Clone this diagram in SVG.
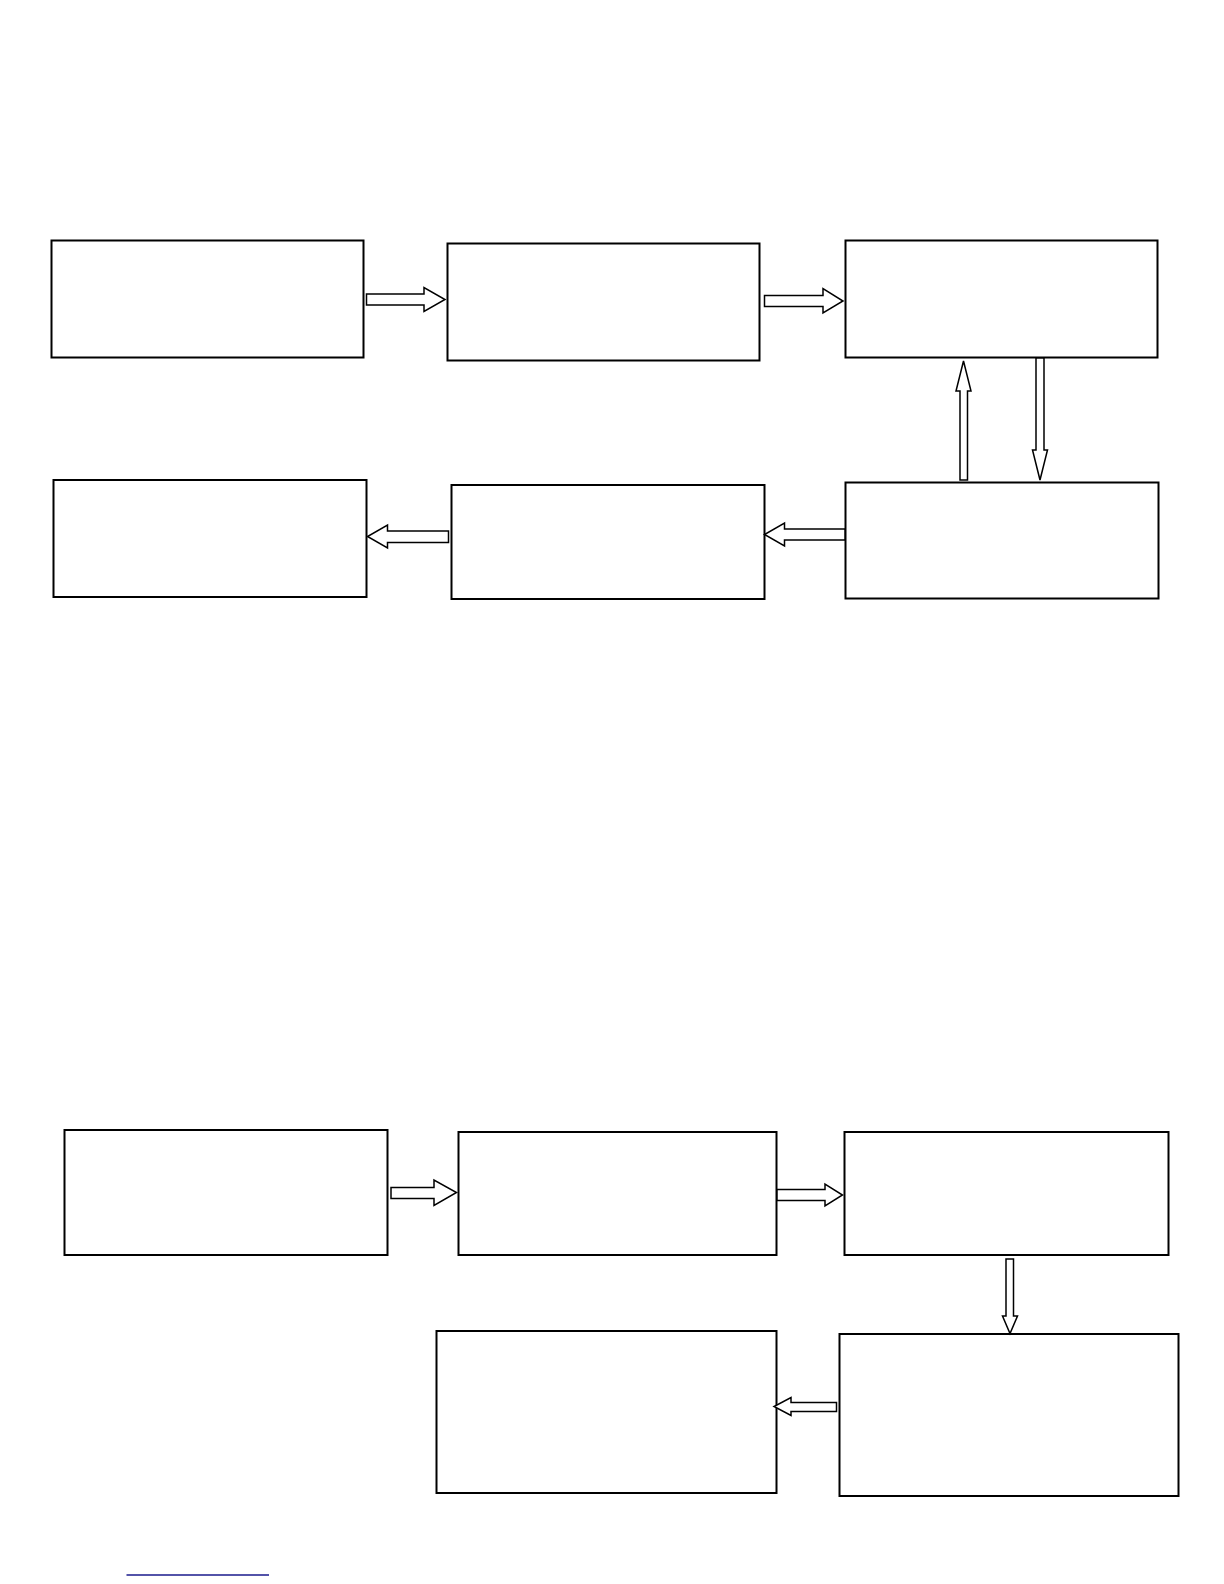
<svg xmlns="http://www.w3.org/2000/svg" width="1224" height="1584" viewBox="0 0 1224 1584">
<style>
.box{fill:#fff;stroke:#000;stroke-width:2}
.arr{fill:#fff;stroke:#000;stroke-width:1.5;stroke-linejoin:miter}
</style>
<rect width="1224" height="1584" fill="#fff"/>
<g id="nodes">
<g id="a"><rect class="box" x="51.5" y="240.5" width="312" height="117"/></g>
<g id="b"><rect class="box" x="447.5" y="243.5" width="312" height="117"/></g>
<g id="c"><rect class="box" x="845.5" y="240.5" width="312" height="117"/></g>
<g id="d"><rect class="box" x="845.5" y="482.5" width="313" height="116"/></g>
<g id="e"><rect class="box" x="451.5" y="485" width="313" height="114"/></g>
<g id="f"><rect class="box" x="53.5" y="480" width="313" height="117"/></g>
<g id="g"><rect class="box" x="64.5" y="1130" width="323" height="125"/></g>
<g id="h"><rect class="box" x="458.5" y="1132" width="318" height="123"/></g>
<g id="i"><rect class="box" x="844.5" y="1132" width="324" height="123"/></g>
<g id="j"><rect class="box" x="839.5" y="1334" width="339" height="162"/></g>
<g id="k"><rect class="box" x="436.5" y="1331" width="340" height="162"/></g>
</g>
<g id="connectors">
<polygon class="arr" points="366.5,294 424,294 424,287.5 445,299.5 424,311.5 424,305 366.5,305"/>
<polygon class="arr" points="764.5,295.5 823,295.5 823,288.5 843,301 823,313 823,306.5 764.5,306.5"/>
<polygon class="arr" points="960,480 960,391 956,391 963.5,361 971,391 967.5,391 967.5,480"/>
<polygon class="arr" points="1036,358 1044,358 1044,450 1047.5,450 1040,480 1032.5,450 1036,450"/>
<polygon class="arr" points="845,529 784.5,529 784.5,523 764.5,534.5 784.5,546 784.5,540 845,540"/>
<polygon class="arr" points="448.5,531 387.5,531 387.5,525 367.5,536.5 387.5,548 387.5,542.5 448.5,542.5"/>
<polygon class="arr" points="391,1187.5 434,1187.5 434,1180 456.5,1192.5 434,1205.5 434,1198.5 391,1198.5"/>
<polygon class="arr" points="777,1189.5 825,1189.5 825,1184 842.5,1195 825,1206 825,1200.5 777,1200.5"/>
<polygon class="arr" points="1006,1259 1013.5,1259 1013.5,1316 1017.5,1316 1010,1333.5 1002.5,1316 1006,1316"/>
<polygon class="arr" points="836.5,1402.5 791,1402.5 791,1397.5 774,1406.5 791,1415.5 791,1411.5 836.5,1411.5"/>
</g>
<line x1="126.5" y1="1575" x2="269" y2="1575" stroke="#1a1a8c" stroke-width="1.5"/>
</svg>
